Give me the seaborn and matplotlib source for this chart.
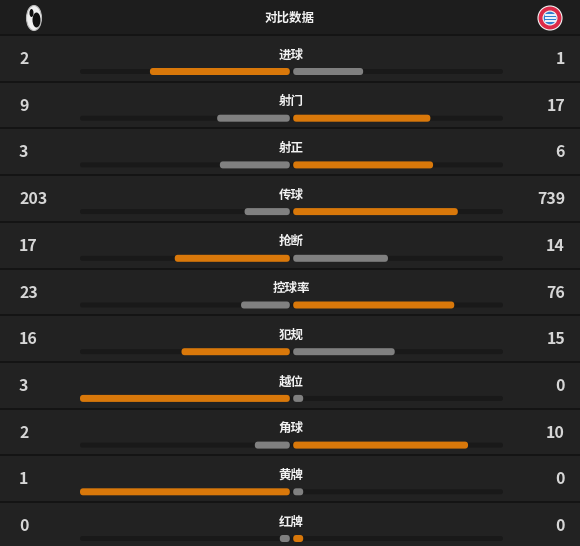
import matplotlib
matplotlib.use("Agg")
import matplotlib.pyplot as plt
from matplotlib.patches import FancyBboxPatch, Rectangle, Ellipse, Circle
import seaborn as sns
import pandas as pd

# ---------------- data ----------------
stats = ["进球", "射门", "射正", "传球", "抢断", "控球率", "犯规", "越位", "角球", "黄牌", "红牌"]
home_values = [2, 9, 3, 203, 17, 23, 16, 3, 2, 1, 0]
away_values = [1, 17, 6, 739, 14, 76, 15, 0, 10, 0, 0]
header_title = "对比数据"

# ---------------- style ----------------
sns.set_theme(style="dark")
plt.rcParams["font.family"] = ["Noto Sans CJK SC", "DejaVu Sans"]

W, H = 580, 546
BG = "#1d1d1d"
ROW_BG = "#222222"
SEP = "#141414"
TRACK = "#191919"
ORANGE = "#d9780a"
GRAY = "#808080"
VALUE_COLOR = "#d6d6d6"
LABEL_COLOR = "#f2f2f2"

TOP = 35.0
ROW_H = 46.7
TRACK_X0, TRACK_X1 = 80.0, 503.0
HALF = (TRACK_X1 - TRACK_X0) / 2.0
CENTER = TRACK_X0 + HALF
GAP = 1.7
STUB = 10.0
BAR_PX = 7.0
TRACK_PX = 5.0
BAR_Y0 = TOP + 36.5

fig = plt.figure(figsize=(W / 100, H / 100), dpi=100, facecolor=BG)

# background / text axes in pixel coords
ax = fig.add_axes([0, 0, 1, 1])
ax.set_xlim(0, W)
ax.set_ylim(H, 0)
ax.axis("off")
ax.set_facecolor(BG)
ax.add_patch(Rectangle((0, 0), W, H, facecolor=BG, edgecolor="none", zorder=0))

n = len(stats)
for i in range(n):
    top = TOP + ROW_H * i
    ax.add_patch(Rectangle((0, top), W, ROW_H, facecolor=ROW_BG, edgecolor="none", zorder=1))
    ax.add_patch(Rectangle((0, top - 1), W, 2, facecolor=SEP, edgecolor="none", zorder=2))
    ax.text(19, top + 24, str(home_values[i]), color=VALUE_COLOR, fontsize=11.5,
            fontweight="bold", ha="left", va="center", zorder=3)
    ax.text(565, top + 24, str(away_values[i]), color=VALUE_COLOR, fontsize=11.5,
            fontweight="bold", ha="right", va="center", zorder=3)
    ax.text(CENTER - 0.5, top + 20, stats[i], color=LABEL_COLOR, fontsize=9,
            fontweight="bold", ha="center", va="center", zorder=3)

# header
ax.text(290, 18, header_title, color=LABEL_COLOR, fontsize=9, fontweight="bold",
        ha="center", va="center", zorder=3)
# Freiburg-like logo
ax.add_patch(Ellipse((34, 18), 15, 25, facecolor="#f0f0f0", edgecolor="#bbbbbb", lw=0.8, zorder=3))
ax.add_patch(Ellipse((36.5, 20), 8, 15, facecolor="#111111", edgecolor="none", zorder=4))
ax.add_patch(Ellipse((31.5, 13), 4, 8, facecolor="#111111", edgecolor="none", zorder=4))
# Bayern-like logo
ax.add_patch(Circle((550, 18), 12, facecolor="#dc2a48", edgecolor="#f2f2f2", lw=0.8, zorder=3))
ax.add_patch(Circle((550, 18), 7.5, facecolor="#f2f2f2", edgecolor="none", zorder=4))
ax.add_patch(Circle((550, 18), 6.3, facecolor="#2f7fd0", edgecolor="none", zorder=5))
for dy in (-3, 0, 3):
    ax.add_patch(Rectangle((544.5, 18 + dy - 0.6), 11, 1.2, facecolor="#e8f0fa",
                           edgecolor="none", zorder=6))

# ---------------- bars axes ----------------
bx = fig.add_axes([TRACK_X0 / W, 0, (TRACK_X1 - TRACK_X0) / W, 1])
bx.patch.set_alpha(0)

usable = HALF - GAP
rows = []
track_rows = []
for i, s in enumerate(stats):
    l, r = home_values[i], away_values[i]
    tot = l + r
    lpx = max(usable * l / tot if tot else 0, STUB)
    rpx = max(usable * r / tot if tot else 0, STUB)
    left_win = l > r
    rows.append({"stat": s, "x": -lpx / HALF, "kind": "win" if left_win else "lose"})
    rows.append({"stat": s, "x": rpx / HALF, "kind": "lose" if left_win else "win"})
    track_rows.append({"stat": s, "x": -1.0, "side": "L"})
    track_rows.append({"stat": s, "x": 1.0, "side": "R"})

df = pd.DataFrame(rows)
tdf = pd.DataFrame(track_rows)

row_units_per_px = 1.0 / ROW_H
x_units_per_px = 1.0 / HALF

sns.barplot(data=tdf, x="x", y="stat", hue="side", order=stats, dodge=False,
            palette={"L": TRACK, "R": TRACK}, width=TRACK_PX * row_units_per_px,
            saturation=1, errorbar=None, legend=False, ax=bx, orient="h")
n_track = len(bx.patches)
sns.barplot(data=df, x="x", y="stat", hue="kind", order=stats, dodge=False,
            palette={"win": ORANGE, "lose": GRAY}, width=BAR_PX * row_units_per_px,
            saturation=1, errorbar=None, legend=False, ax=bx, orient="h")

aspect = row_units_per_px / x_units_per_px
orig = list(bx.patches)
for k, p in enumerate(orig):
    x, w = p.get_x(), p.get_width()
    y, h = p.get_y(), p.get_height()
    if abs(w) < 1e-9:
        p.remove()
        continue
    x0, x1 = min(x, x + w), max(x, x + w)
    is_track = k < n_track
    if not is_track:
        shift = GAP * x_units_per_px
        if (x0 + x1) / 2 < 0:
            x0 -= shift; x1 -= shift
        else:
            x0 += shift; x1 += shift
    radius_px = (TRACK_PX if is_track else BAR_PX) / 2.0 - 0.3
    rp = FancyBboxPatch((x0, y), x1 - x0, h,
                        boxstyle=f"round,pad=0,rounding_size={radius_px * x_units_per_px}",
                        mutation_aspect=aspect, facecolor=p.get_facecolor(),
                        edgecolor="none", lw=0, zorder=2 if is_track else 3)
    p.remove()
    bx.add_patch(rp)

bx.set_xlim(-1, 1)
bx.set_ylim((H - BAR_Y0) / ROW_H, -BAR_Y0 / ROW_H)
bx.axis("off")

fig.savefig("out.png", dpi=100, facecolor=BG)
